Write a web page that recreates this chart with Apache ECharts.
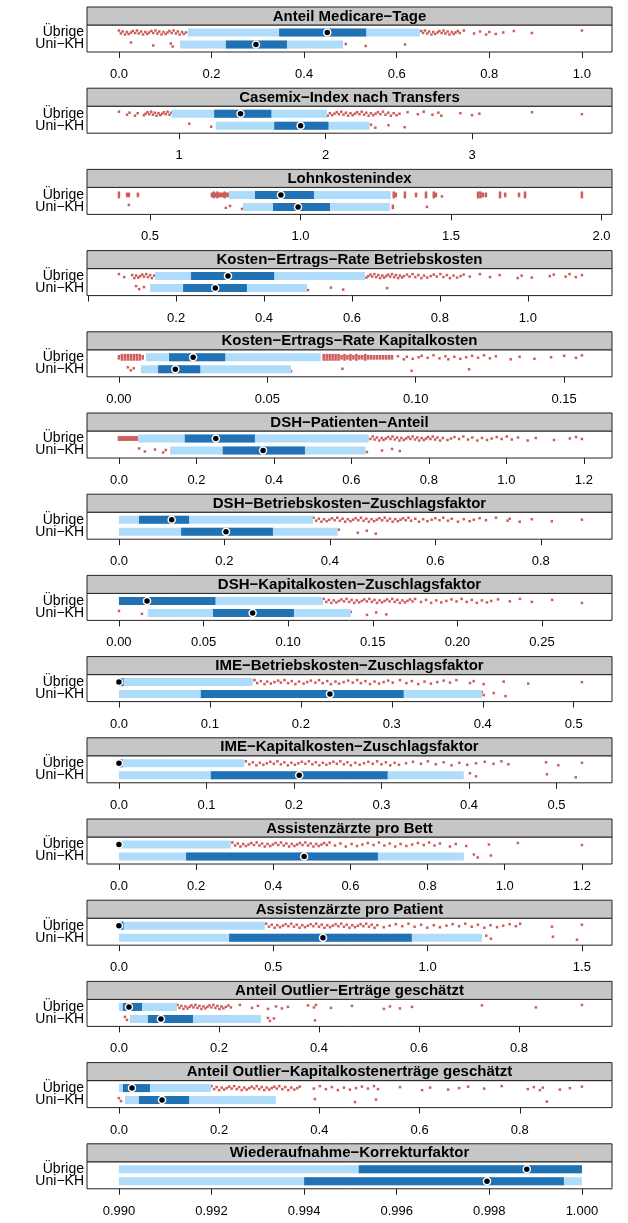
<!DOCTYPE html>
<html>
<head>
<meta charset="utf-8">
<script src="https://cdn.jsdelivr.net/npm/echarts@6/dist/echarts.min.js"></script>
<style>
  html, body { margin: 0; padding: 0; background: #fff; }
  #chart { width: 628px; height: 1223px; }
</style>
</head>
<body>
<div id="chart"></div>
<script>
// Panel headings, top to bottom
const panelTitles = [
  'Anteil Medicare−Tage',
  'Casemix−Index nach Transfers',
  'Lohnkostenindex',
  'Kosten−Ertrags−Rate Betriebskosten',
  'Kosten−Ertrags−Rate Kapitalkosten',
  'DSH−Patienten−Anteil',
  'DSH−Betriebskosten−Zuschlagsfaktor',
  'DSH−Kapitalkosten−Zuschlagsfaktor',
  'IME−Betriebskosten−Zuschlagsfaktor',
  'IME−Kapitalkosten−Zuschlagsfaktor',
  'Assistenzärzte pro Bett',
  'Assistenzärzte pro Patient',
  'Anteil Outlier−Erträge geschätzt',
  'Anteil Outlier−Kapitalkostenerträge geschätzt',
  'Wiederaufnahme−Korrekturfaktor'
];

const rowLabels = ['Übrige', 'Uni−KH'];

// Box statistics per panel: [lower whisker, Q1, median, Q3, upper whisker]
const statsUebrige = [
  [0.149, 0.346, 0.450, 0.534, 0.650],
  [0.950, 1.240, 1.420, 1.630, 2.010],
  [0.762, 0.849, 0.935, 1.045, 1.300],
  [0.152, 0.234, 0.318, 0.423, 0.630],
  [0.0091, 0.0169, 0.025, 0.0358, 0.068],
  [0.049, 0.170, 0.250, 0.351, 0.645],
  [0.000, 0.038, 0.100, 0.133, 0.368],
  [0.000, 0.000, 0.0166, 0.057, 0.1206],
  [0.000, 0.000, 0.000, 0.005, 0.147],
  [0.000, 0.000, 0.000, 0.004, 0.143],
  [0.000, 0.000, 0.000, 0.002, 0.290],
  [0.000, 0.000, 0.000, 0.015, 0.473],
  [0.000, 0.008, 0.020, 0.046, 0.116],
  [0.000, 0.008, 0.026, 0.062, 0.184],
  [0.990, 0.99518, 0.99881, 1.000, 1.000]
];
const statsUniKH = [
  [0.132, 0.231, 0.296, 0.363, 0.484],
  [1.250, 1.650, 1.830, 2.020, 2.300],
  [0.809, 0.909, 0.992, 1.098, 1.297],
  [0.141, 0.216, 0.289, 0.361, 0.498],
  [0.0074, 0.0132, 0.019, 0.0274, 0.058],
  [0.132, 0.268, 0.372, 0.480, 0.637],
  [0.000, 0.118, 0.203, 0.292, 0.415],
  [0.017, 0.0556, 0.079, 0.1034, 0.137],
  [0.000, 0.090, 0.232, 0.313, 0.399],
  [0.000, 0.105, 0.206, 0.307, 0.394],
  [0.000, 0.174, 0.480, 0.671, 0.894],
  [0.000, 0.357, 0.661, 0.949, 1.176],
  [0.022, 0.058, 0.084, 0.148, 0.284],
  [0.012, 0.040, 0.086, 0.140, 0.313],
  [0.990, 0.994, 0.99795, 0.99961, 1.000]
];

// Outlying hospitals per panel; [value, n] marks n hospitals sharing one value
const outliersUebrige = [
  [0.000,0.004,0.008,0.013,0.017,0.021,0.026,0.030,0.035,0.039,0.043,0.048,0.052,0.057,0.061,0.065,0.070,0.074,0.079,0.083,0.087,0.092,0.096,0.101,0.105,0.109,0.114,0.118,0.123,0.127,0.131,0.136,0.140,0.145,
   0.653,0.657,0.661,0.666,0.670,0.675,0.679,0.683,0.688,0.692,0.697,0.701,0.705,0.710,0.714,0.719,0.723,0.727,0.732,0.736,
   0.745,0.767,0.780,0.793,0.800,0.814,0.830,0.853,0.892,1.000],
  [0.590,0.645,0.662,0.700,0.718,0.760,0.772,0.785,0.797,0.810,0.822,0.835,0.847,0.860,0.872,0.885,0.897,0.910,0.922,0.935,0.947,
   2.015,2.030,2.046,2.061,2.077,2.092,2.108,2.123,2.139,2.154,2.170,2.185,2.201,2.216,2.232,2.247,2.263,2.278,2.294,2.310,2.326,2.342,2.358,2.375,2.392,2.410,2.428,2.446,2.465,2.485,2.505,
   2.560,2.630,2.670,2.730,2.770,2.790,2.920,3.000,3.050,3.410,3.750],
  [[0.397,3],[0.424,2],[0.430,2],[0.460,2],[0.706,2],[0.712,3],[0.718,2],[0.724,3],[0.730,2],[0.736,2],[0.742,2],[0.748,3],[0.754,2],[0.759,2],
   [1.310,3],[1.317,2],[1.347,3],[1.384,2],[1.417,3],[1.443,3],[1.450,2],1.470,[1.590,3],[1.598,3],[1.606,2],[1.616,2],[1.663,3],[1.680,2],[1.726,2],[1.746,3],[1.935,3]],
  [0.070,0.082,0.100,0.105,0.109,0.114,0.118,0.123,0.127,0.132,0.136,0.141,0.145,0.150,
   0.633,0.637,0.642,0.646,0.651,0.655,0.660,0.664,0.669,0.673,0.678,0.682,0.687,0.691,0.696,0.700,0.705,0.709,0.714,0.718,
   0.725,0.731,0.738,0.744,0.751,0.758,0.764,0.771,0.779,0.786,0.793,0.801,0.808,0.816,0.823,0.831,0.839,0.847,0.854,
   0.868,0.891,0.914,0.936,0.977,0.986,1.009,1.050,1.059,1.086,1.095,1.109,1.123],
  [[0.000,2],[0.001,3],[0.002,3],[0.003,3],[0.004,3],[0.005,3],[0.006,3],[0.007,3],[0.008,2],
   [0.069,3],[0.070,3],[0.071,3],[0.072,3],[0.073,3],[0.074,3],[0.075,2],[0.076,3],[0.077,2],[0.078,3],[0.079,2],[0.080,3],[0.081,2],[0.082,2],[0.083,3],[0.084,2],[0.085,2],[0.086,2],[0.087,2],[0.088,2],[0.089,2],[0.090,2],[0.091,2],[0.092,2],
   0.094,0.096,0.097,0.099,0.101,0.102,0.104,0.106,0.108,0.110,0.111,0.113,0.115,0.117,0.119,0.121,0.123,0.125,0.127,
   0.132,0.135,0.140,0.1456,0.150,0.154,0.156],
  [[0.000,2],[0.004,2],[0.008,2],[0.012,2],[0.016,2],[0.020,2],[0.024,2],[0.028,2],[0.032,2],[0.036,2],[0.040,2],[0.044,2],[0.048,2],
   0.649,0.655,0.660,0.666,0.672,0.678,0.683,0.689,0.695,0.701,0.706,0.712,0.718,0.724,0.729,0.735,0.741,0.747,0.752,0.758,0.764,0.770,0.775,0.781,0.787,0.793,0.798,0.804,0.810,0.816,0.822,0.829,0.836,
   0.848,0.857,0.866,0.878,0.889,0.901,0.912,0.925,0.937,0.950,0.962,0.975,0.988,1.001,1.014,1.030,
   1.055,1.076,1.123,1.164,1.180,1.195],
  [0.369,0.374,0.379,0.384,0.389,0.394,0.399,0.404,0.409,0.414,0.419,0.424,0.429,0.434,0.439,0.444,0.449,0.454,0.459,0.464,0.469,0.474,0.479,0.484,0.489,0.494,0.499,0.504,0.509,0.514,0.519,0.524,0.529,0.534,0.539,0.544,0.549,0.554,
   0.562,0.569,0.577,0.585,0.593,0.600,0.608,0.615,
   0.624,0.631,0.643,0.654,0.665,0.673,0.684,0.696,0.715,0.737,0.741,0.760,0.783,0.821,0.878],
  [0.1210,0.1225,0.1240,0.1255,0.1270,0.1285,0.1300,0.1315,0.1330,0.1345,0.1360,0.1375,0.1390,0.1405,0.1420,0.1435,0.1450,0.1465,0.1480,0.1495,0.1510,0.1525,0.1540,0.1555,0.1570,0.1585,0.1600,0.1615,0.1630,0.1645,0.1660,0.1675,0.1690,0.1705,0.1720,0.1735,0.1750,
   0.1785,0.1815,0.1845,0.1875,0.1905,0.1935,0.1965,0.1995,0.2025,0.2055,0.2085,0.2115,0.2145,0.2175,0.2200,
   0.2240,0.2310,0.2370,0.2440,0.2560,0.2736],
  [0.149,0.152,0.156,0.160,0.163,0.167,0.171,0.175,0.178,0.182,0.186,0.190,0.194,0.198,0.203,0.207,0.211,0.216,0.220,0.224,0.229,0.233,0.238,0.242,0.247,0.252,0.257,0.262,0.266,0.271,0.276,0.281,0.286,0.291,0.296,0.301,
   0.309,0.316,0.322,0.329,0.336,0.343,0.350,0.357,0.364,0.371,
   0.386,0.390,0.401,0.423,0.450,0.509],
  [0.145,0.149,0.153,0.157,0.161,0.165,0.169,0.173,0.177,0.181,0.185,0.189,0.193,0.197,0.201,0.205,0.209,0.213,0.217,0.221,0.225,0.229,0.233,0.237,0.241,0.245,0.249,0.253,0.257,0.261,0.265,0.270,0.275,0.280,0.285,0.290,0.295,0.300,0.305,0.310,0.315,0.320,
   0.328,0.336,0.345,0.353,0.362,0.371,0.380,0.389,0.398,0.408,0.418,0.428,0.437,0.445,
   0.488,0.502,0.529],
  [0.294,0.301,0.308,0.315,0.322,0.329,0.336,0.343,0.350,0.357,0.364,0.371,0.378,0.385,0.392,0.399,0.406,0.413,0.420,0.427,0.434,0.441,0.448,0.455,0.462,0.469,0.476,0.483,0.490,0.497,0.504,0.511,0.518,0.525,0.532,0.539,0.546,
   0.560,0.574,0.588,0.603,0.617,0.631,0.645,0.660,0.674,0.688,0.702,0.716,0.730,0.745,0.760,0.775,0.790,0.804,0.818,0.832,
   0.858,0.873,0.900,0.959,1.034,1.200],
  [0.477,0.486,0.495,0.504,0.513,0.522,0.531,0.540,0.549,0.558,0.567,0.576,0.585,0.594,0.603,0.612,0.621,0.630,0.639,0.648,0.657,0.666,0.675,0.684,0.693,0.702,0.711,0.720,0.729,0.738,0.747,0.756,0.765,0.774,0.783,0.792,0.801,0.810,0.819,0.828,0.837,
   0.858,0.877,0.897,0.918,0.938,0.958,0.979,0.999,1.020,1.040,1.061,1.081,1.102,1.122,1.143,1.163,1.184,1.204,1.225,1.245,1.266,1.286,1.300,
   1.403,1.500],
  [0.117,0.121,0.125,0.129,0.133,0.137,0.141,0.145,0.149,0.153,0.157,0.161,0.165,0.169,0.173,0.177,0.181,0.185,0.189,0.193,0.197,0.201,0.205,0.209,0.214,0.219,0.224,
   0.242,0.266,0.278,0.298,0.314,0.326,0.338,0.378,0.390,0.394,
   0.424,0.466,0.530,0.542,0.562,0.586,0.726,0.834,0.926],
  [0.185,0.190,0.195,0.200,0.205,0.210,0.215,0.220,0.225,0.230,0.235,0.240,0.245,0.250,0.255,0.260,0.265,0.270,0.275,0.280,0.285,0.290,0.295,0.300,0.305,0.310,0.315,0.320,0.326,0.332,0.338,0.344,0.350,0.356,0.361,
   0.389,0.401,0.413,0.425,0.437,0.449,0.461,0.473,0.485,0.497,0.509,0.517,0.561,0.605,0.621,0.657,0.679,0.697,0.729,0.764,0.816,0.828,0.840,0.846,0.880,0.900,0.924],
  []
];
const outliersUniKH = [
  [0.026,0.074,0.112,0.116,0.490,0.533,0.618],
  [1.070,1.220,2.310,2.340,2.430,2.540],
  [0.430,0.752,0.766,0.806,[1.307,2],1.420],
  [0.109,0.116,0.127,0.500,0.552,0.580,0.680],
  [0.003,0.004,0.005,0.058,0.0753,0.0986,0.118],
  [0.052,0.067,0.093,0.114,0.121,0.640,0.679,0.705,0.725],
  [0.417,0.453,0.470,0.487],
  [0.000,0.0136,0.137,0.1466,0.152,0.158],
  [0.399,0.401,0.412,0.425],
  [0.401,0.408,0.489,0.522],
  [0.920,0.930,0.964],
  [1.190,1.205,1.406,1.484],
  [0.012,0.016,0.298,0.302,0.310,0.392],
  [0.000,0.004,0.391,0.471,0.513,0.854],
  []
];

// Labelled tick marks per panel, plus unlabelled ones
const tickLabels = [
  ['0.0','0.2','0.4','0.6','0.8','1.0'],
  ['1','2','3'],
  ['0.5','1.0','1.5','2.0'],
  ['0.2','0.4','0.6','0.8','1.0'],
  ['0.00','0.05','0.10','0.15'],
  ['0.0','0.2','0.4','0.6','0.8','1.0','1.2'],
  ['0.0','0.2','0.4','0.6','0.8'],
  ['0.00','0.05','0.10','0.15','0.20','0.25'],
  ['0.0','0.1','0.2','0.3','0.4','0.5'],
  ['0.0','0.1','0.2','0.3','0.4','0.5'],
  ['0.0','0.2','0.4','0.6','0.8','1.0','1.2'],
  ['0.0','0.5','1.0','1.5'],
  ['0.0','0.2','0.4','0.6','0.8'],
  ['0.0','0.2','0.4','0.6','0.8'],
  ['0.990','0.992','0.994','0.996','0.998','1.000']
];
const unlabelledTicks = [[],[],[],[0],[],[],[],[],[],[],[],[],[],[],[]];

// ---- layout and style ----
const LEFT = 87, WIDTH = 525;
const TOP0 = 7, PITCH = 81.2, STRIP_H = 18, PLOT_H = 27;
const ROW_GAP = 12;                 // px between the two rows
const LIGHT = '#afdcfa', DARK = '#2171b5', POINT = '#cd5c5c';
const STRIP_FILL = '#c6c6c6', FRAME = '#222';
const FONT = 'Liberation Sans';
const Y_UE = 2, Y_UNI = 1;
const yHalf = (PLOT_H / 2) / ROW_GAP;
const JITTER = [-2, 1, -1, 2, -0.5, 1.5, 0, -1.5, 0.5];

function expand(list, y) {
  const out = [];
  let j = 0;
  list.forEach(entry => {
    const v = Array.isArray(entry) ? entry[0] : entry;
    const n = Array.isArray(entry) ? entry[1] : 1;
    for (let i = 0; i < n; i++) {
      const off = n > 1 ? (i - (n - 1) / 2) * 2.2 : JITTER[j % JITTER.length];
      out.push({ value: [v, y], symbolOffset: [0, off] });
      j++;
    }
  });
  return out;
}

function renderBox(params, api) {
  const y = api.value(5);
  const lo = api.coord([api.value(0), y]);
  const q1 = api.coord([api.value(1), y]);
  const md = api.coord([api.value(2), y]);
  const q3 = api.coord([api.value(3), y]);
  const hi = api.coord([api.value(4), y]);
  const h = 8;
  return {
    type: 'group',
    children: [
      { type: 'rect', shape: { x: lo[0], y: lo[1] - h / 2, width: hi[0] - lo[0], height: h }, style: { fill: LIGHT } },
      { type: 'rect', shape: { x: q1[0], y: q1[1] - h / 2, width: Math.max(q3[0] - q1[0], 0), height: h }, style: { fill: DARK } },
      { type: 'circle', shape: { cx: md[0], cy: md[1], r: 3.5 }, style: { fill: '#000', stroke: '#fff', lineWidth: 1.5 } }
    ]
  };
}

const grids = [], xAxes = [], yAxes = [], series = [], graphics = [];

panelTitles.forEach((title, k) => {
  const top = TOP0 + k * PITCH;
  const values = [].concat(statsUebrige[k], statsUniKH[k],
    outliersUebrige[k].map(e => Array.isArray(e) ? e[0] : e),
    outliersUniKH[k].map(e => Array.isArray(e) ? e[0] : e));
  const dMin = Math.min(...values), dMax = Math.max(...values);
  const span = dMax - dMin;
  const labels = tickLabels[k];
  const labelVals = labels.map(Number);

  grids.push({ left: LEFT, top: top + STRIP_H, width: WIDTH, height: PLOT_H,
    show: true, borderColor: FRAME, borderWidth: 1, backgroundColor: '#fff' });

  xAxes.push({
    type: 'value', gridIndex: k, position: 'bottom',
    min: dMin - 0.069 * span, max: dMax + 0.065 * span,
    splitLine: { show: false },
    axisLine: { show: false },
    axisTick: { show: true, length: 6, customValues: labelVals.concat(unlabelledTicks[k]),
      lineStyle: { color: FRAME, width: 1 } },
    axisLabel: { customValues: labelVals, margin: 16, fontSize: 13, fontFamily: FONT, color: '#000',
      hideOverlap: false,
      formatter: v => { const i = labelVals.findIndex(t => Math.abs(t - v) < 1e-9); return i >= 0 ? labels[i] : ''; } }
  });

  yAxes.push({
    type: 'value', gridIndex: k, min: 1.5 - yHalf, max: 1.5 + yHalf,
    splitLine: { show: false }, axisLine: { show: false }, axisTick: { show: false },
    axisLabel: { show: false }
  });

  series.push({
    type: 'scatter', xAxisIndex: k, yAxisIndex: k, silent: true,
    symbol: 'rect', symbolSize: [2.5, 2.5], itemStyle: { color: POINT, opacity: 1 },
    data: expand(outliersUebrige[k], Y_UE).concat(expand(outliersUniKH[k], Y_UNI))
  });

  series.push({
    type: 'custom', xAxisIndex: k, yAxisIndex: k, silent: true,
    renderItem: renderBox,
    encode: { x: [0, 1, 2, 3, 4], y: 5 },
    data: [statsUebrige[k].concat([Y_UE]), statsUniKH[k].concat([Y_UNI])],
    z: 3
  });

  // strip with the panel heading
  graphics.push({
    type: 'rect', shape: { x: LEFT, y: top, width: WIDTH, height: STRIP_H },
    style: { fill: STRIP_FILL, stroke: FRAME, lineWidth: 1 }, z: 10
  });
  graphics.push({
    type: 'text', x: LEFT + WIDTH / 2, y: top + STRIP_H / 2 + 0.5,
    style: { text: title, font: `bold 15px "${FONT}"`, fill: '#000',
      textAlign: 'center', textVerticalAlign: 'middle', verticalAlign: 'middle' }, z: 11
  });

  // row names left of the panel
  const plotMid = top + STRIP_H + PLOT_H / 2;
  [[rowLabels[0], plotMid - ROW_GAP / 2], [rowLabels[1], plotMid + ROW_GAP / 2]].forEach(([txt, yy]) => {
    graphics.push({
      type: 'text', x: LEFT - 3, y: yy,
      style: { text: txt, font: `14px "${FONT}"`, fill: '#000',
        textAlign: 'right', textVerticalAlign: 'middle', verticalAlign: 'middle' }, z: 11
    });
  });
});

const chart = echarts.init(document.getElementById('chart'), null, { renderer: 'canvas' });
chart.setOption({
  animation: false,
  backgroundColor: '#fff',
  grid: grids, xAxis: xAxes, yAxis: yAxes, series: series,
  graphic: graphics
});
</script>
</body>
</html>
